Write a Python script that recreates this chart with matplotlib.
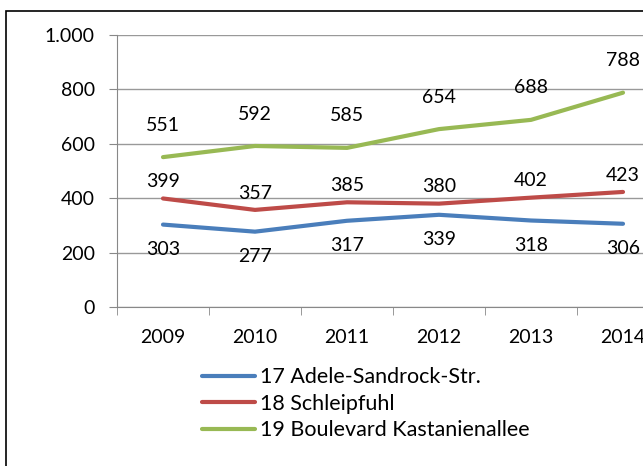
import numpy as np
import matplotlib.pyplot as plt
import matplotlib as mpl
from matplotlib.patches import Rectangle
from matplotlib.ticker import FuncFormatter

mpl.rcParams['font.family'] = ['Lato', 'DejaVu Sans']
mpl.rcParams['font.size'] = 14

# Daten
years = ['2009', '2010', '2011', '2012', '2013', '2014']
adele = [303, 277, 317, 339, 318, 306]
schleipfuhl = [399, 357, 385, 380, 402, 423]
kastanien = [551, 592, 585, 654, 688, 788]
names = ['17 Adele-Sandrock-Str.', '18 Schleipfuhl', '19 Boulevard Kastanienallee']
colors = ['#4A7EBB', '#BE4B48', '#98B954']
label_offsets = [-18, 12, 23]  # Pixelversatz der Datenbeschriftung

fig = plt.figure(figsize=(6.43, 4.66), dpi=100)
# Rahmen des Diagramms (links und oben sichtbar)
fig.patches.append(Rectangle((6 / 643, -0.1), 2.0, (466 - 11) / 466 + 0.1,
                             transform=fig.transFigure, fill=False,
                             edgecolor='black', linewidth=1.2))

ax = fig.add_axes([117 / 643, 159 / 466, 552 / 643, 272 / 466])
x = np.arange(len(years))
series = [adele, schleipfuhl, kastanien]
for vals, name, col, off in zip(series, names, colors, label_offsets):
    ax.plot(x, vals, color=col, linewidth=3, label=name, solid_capstyle='round')
    for xi, v in zip(x, vals):
        ax.annotate(str(v), (xi, v), xytext=(0, off), textcoords='offset points',
                    ha='center', va='center', fontsize=14)

ax.set_xlim(-0.5, len(years) - 0.5)
ax.set_ylim(0, 1000)
ax.set_yticks(np.arange(0, 1001, 200))
ax.yaxis.set_major_formatter(FuncFormatter(lambda v, p: f'{int(v):,}'.replace(',', '.')))
ax.set_xticks(x)
ax.set_xticklabels(years)
ax.set_xticks(np.arange(-0.5, len(years)), minor=True)
ax.tick_params(axis='x', which='major', length=0, pad=16)
ax.tick_params(axis='x', which='minor', length=6, color='#888888', direction='out')
ax.tick_params(axis='y', length=6, color='#888888', direction='out', pad=10)
ax.grid(axis='y', color='#999999', linewidth=1)
ax.set_axisbelow(True)
for s in ['top', 'right']:
    ax.spines[s].set_visible(False)
for s in ['left', 'bottom']:
    ax.spines[s].set_color('#888888')

leg = fig.legend(loc='upper left', bbox_to_anchor=(183 / 643, 1 - 348 / 466),
                 frameon=False, handlelength=2.45, handletextpad=0.25,
                 labelspacing=0.3, fontsize=15.5)

plt.savefig('out.png', dpi=100)
